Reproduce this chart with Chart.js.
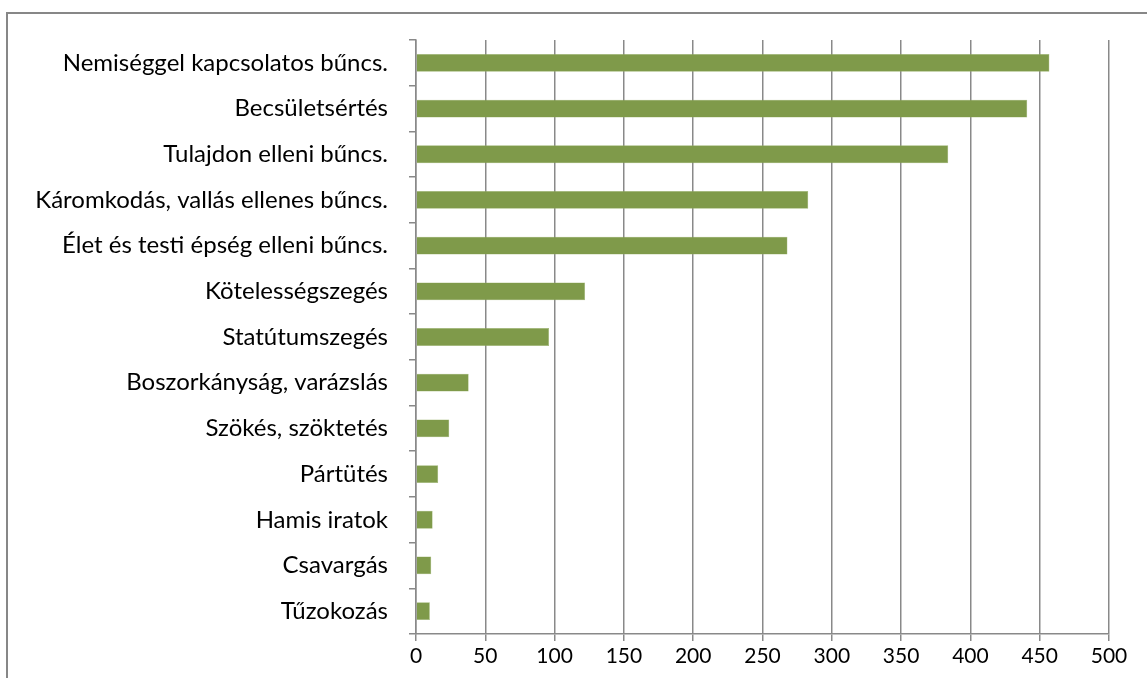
<!DOCTYPE html>
<html>
<head>
<meta charset="utf-8">
<script src="https://cdn.jsdelivr.net/npm/chart.js@4"></script>
<style>
    html, body { margin: 0; padding: 0; background: #fff; overflow: hidden; }
    #frame {
        position: absolute; left: 6px; top: 12px; width: 1200px; height: 700px;
        border-left: 2px solid #878787; border-top: 2px solid #878787;
    }
    #wrap { position: absolute; left: 0; top: 0; width: 1147px; height: 678px; }
</style>
</head>
<body>
<div id="frame"></div>
<div id="wrap"><canvas id="crimeChart"></canvas></div>
<script>
// Crime categories (top to bottom) and counts
const categories = [
    'Nemiséggel kapcsolatos bűncs.',
    'Becsületsértés',
    'Tulajdon elleni bűncs.',
    'Káromkodás, vallás ellenes bűncs.',
    'Élet és testi épség elleni bűncs.',
    'Kötelességszegés',
    'Statútumszegés',
    'Boszorkányság, varázslás',
    'Szökés, szöktetés',
    'Pártütés',
    'Hamis iratok',
    'Csavargás',
    'Tűzokozás'
];
const counts = [457, 441, 384, 283, 268, 122, 96, 38, 24, 16, 12, 11, 10];

const xMin = 0;
const xMax = 500;
const xStep = 50;

const gridColor = '#898989';
const barColor = '#7f9a4a';
const fontFamily = 'Lato, "Open Sans", sans-serif';

const ctx = document.getElementById('crimeChart').getContext('2d');
const chart = new Chart(ctx, {
    type: 'bar',
    data: {
        labels: categories,
        datasets: [{
            data: counts,
            backgroundColor: barColor,
            borderColor: '#9db46e',
            borderWidth: 0.5,
            categoryPercentage: 1,
            barPercentage: 0.39
        }]
    },
    options: {
        indexAxis: 'y',
        responsive: true,
        maintainAspectRatio: false,
        animation: false,
        layout: {
            padding: { top: 40, right: 38, bottom: 0, left: 7 }
        },
        scales: {
            x: {
                min: xMin,
                max: xMax,
                ticks: {
                    stepSize: xStep,
                    color: '#000',
                    padding: 3,
                    maxRotation: 0,
                    font: { family: fontFamily, size: 21 }
                },
                grid: {
                    color: gridColor,
                    lineWidth: 1.5,
                    tickLength: 7,
                    tickColor: gridColor
                },
                border: { color: gridColor, width: 1.5 },
                afterFit: function(scale) { scale.height = 44; }
            },
            y: {
                ticks: {
                    color: '#000',
                    padding: 21,
                    font: { family: fontFamily, size: 24 }
                },
                grid: {
                    drawOnChartArea: false,
                    color: gridColor,
                    lineWidth: 1.5,
                    tickLength: 7,
                    tickColor: gridColor
                },
                border: { color: gridColor, width: 1.5 },
                afterFit: function(scale) { scale.width = 409; }
            }
        },
        plugins: {
            legend: { display: false },
            tooltip: { enabled: false }
        }
    }
});
</script>
</body>
</html>
